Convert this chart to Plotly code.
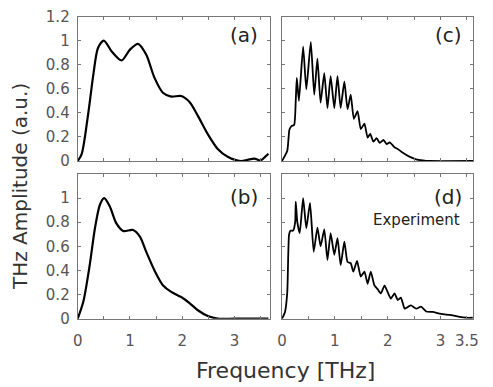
import plotly.graph_objects as go

# Panel (a) - simulation
xa = [0, 0.076, 0.20, 0.30, 0.39, 0.50, 0.65, 0.84, 1.0, 1.155, 1.31, 1.47, 1.63, 1.79, 1.98, 2.14, 2.30, 2.49, 2.68, 2.87, 3.12, 3.25, 3.38, 3.5, 3.6, 3.65]
ya = [0, 0.058, 0.39, 0.72, 0.94, 1.0, 0.91, 0.835, 0.925, 0.973, 0.884, 0.69, 0.567, 0.535, 0.54, 0.49, 0.375, 0.223, 0.10, 0.035, 0.0, 0.01, 0.02, 0.005, 0.04, 0.06]

# Panel (b)
xb = [0, 0.107, 0.23, 0.33, 0.425, 0.507, 0.615, 0.74, 0.87, 1.06, 1.19, 1.31, 1.47, 1.63, 1.79, 1.98, 2.14, 2.30, 2.49, 2.68, 3.0, 3.65]
yb = [0, 0.14, 0.445, 0.75, 0.945, 1.0, 0.93, 0.79, 0.728, 0.735, 0.68, 0.556, 0.40, 0.278, 0.222, 0.18, 0.13, 0.07, 0.022, 0.0, 0.0, 0.0]

# Panel (c)
xc = [0, 0.10, 0.14, 0.18, 0.23, 0.26, 0.28, 0.32, 0.40, 0.46, 0.545, 0.61, 0.67, 0.73, 0.80, 0.86, 0.92, 0.99, 1.05, 1.11, 1.18, 1.24, 1.30, 1.36, 1.43, 1.49, 1.56, 1.62, 1.67, 1.73, 1.79, 1.85, 1.92, 1.98, 2.04, 2.13, 2.19, 2.28, 2.41, 2.54, 2.66, 2.79, 3.62]
yc = [0, 0.085, 0.26, 0.29, 0.30, 0.50, 0.69, 0.50, 0.95, 0.595, 0.99, 0.55, 0.85, 0.485, 0.73, 0.44, 0.705, 0.44, 0.705, 0.44, 0.66, 0.43, 0.55, 0.35, 0.415, 0.265, 0.31, 0.195, 0.225, 0.16, 0.19, 0.15, 0.175, 0.14, 0.155, 0.113, 0.10, 0.07, 0.036, 0.014, 0.005, 0.0, 0.0]

# Panel (d) - experiment
xd = [0, 0.057, 0.10, 0.133, 0.16, 0.21, 0.25, 0.26, 0.29, 0.335, 0.40, 0.46, 0.53, 0.60, 0.67, 0.73, 0.80, 0.86, 0.92, 0.99, 1.05, 1.11, 1.18, 1.24, 1.30, 1.35, 1.42, 1.49, 1.56, 1.62, 1.68, 1.75, 1.81, 1.87, 1.94, 2.0, 2.06, 2.13, 2.19, 2.25, 2.32, 2.38, 2.44, 2.54, 2.63, 2.73, 2.85, 2.98, 3.11, 3.23, 3.36, 3.49, 3.61]
yd = [0, 0.056, 0.22, 0.695, 0.73, 0.73, 0.805, 0.97, 0.80, 0.71, 1.0, 0.75, 0.96, 0.555, 0.755, 0.60, 0.74, 0.487, 0.71, 0.53, 0.667, 0.445, 0.64, 0.47, 0.46, 0.39, 0.48, 0.35, 0.39, 0.29, 0.39, 0.275, 0.245, 0.21, 0.275, 0.22, 0.167, 0.21, 0.155, 0.175, 0.083, 0.097, 0.11, 0.083, 0.10, 0.06, 0.056, 0.042, 0.033, 0.028, 0.015, 0.008, 0.008]

x_tickvals = [0, 0.5, 1, 1.5, 2, 2.5, 3, 3.5]
x_ticktext_left = ["0", "", "1", "", "2", "", "3", ""]
x_ticktext_right = ["0", "", "1", "", "2", "", "3", "3.5"]
y_tickvals = [0, 0.2, 0.4, 0.6, 0.8, 1.0, 1.2]
y_ticktext_top = ["0", "0.2", "0.4", "0.6", "0.8", "1", "1.2"]
y_ticktext_bot = ["0", "0.2", "0.4", "0.6", "0.8", "1", ""]

# page body has an 8px margin, so the figure is 8px smaller and positions shifted
OFF = 8
W, H = 493 - OFF, 387 - OFF
def px_x(p): return (p - OFF) / W
def px_y(p): return (H - (p - OFF)) / H

dom_left = [px_x(77.7), px_x(269.5)]
dom_right = [px_x(282), px_x(473.3)]
dom_top = [px_y(161), px_y(16.5)]
dom_bot = [px_y(318.7), px_y(174)]

fig = go.Figure()
line = dict(color="black", width=2.2, shape="spline", smoothing=0.8)
line2 = dict(color="black", width=1.8, shape="spline", smoothing=0.5)
fig.add_trace(go.Scatter(x=xa, y=ya, mode="lines", line=line, xaxis="x", yaxis="y"))
fig.add_trace(go.Scatter(x=xc, y=yc, mode="lines", line=line2, xaxis="x2", yaxis="y2"))
fig.add_trace(go.Scatter(x=xb, y=yb, mode="lines", line=line, xaxis="x3", yaxis="y3"))
fig.add_trace(go.Scatter(x=xd, y=yd, mode="lines", line=line2, xaxis="x4", yaxis="y4"))

tickfont = dict(family="DejaVu Sans", size=15, color="#555")
common = dict(showgrid=False, zeroline=False, showline=True, linecolor="#777", linewidth=1,
              mirror="ticks", ticks="inside", ticklen=3, tickcolor="#777", tickfont=tickfont,
              automargin=False, ticklabeloverflow="allow")

fig.update_layout(
    width=W, height=H, margin=dict(l=0, r=0, t=0, b=0),
    plot_bgcolor="white", paper_bgcolor="white", showlegend=False,
    xaxis=dict(domain=dom_left, anchor="y", range=[0, 3.67], tickvals=x_tickvals,
               ticktext=["" for _ in x_tickvals], **common),
    yaxis=dict(domain=dom_top, anchor="x", range=[0, 1.2], tickvals=y_tickvals,
               ticktext=y_ticktext_top, ticklabelstandoff=4, **common),
    xaxis2=dict(domain=dom_right, anchor="y2", range=[0, 3.62], tickvals=x_tickvals,
                ticktext=["" for _ in x_tickvals], **common),
    yaxis2=dict(domain=dom_top, anchor="x2", range=[0, 1.2], tickvals=y_tickvals,
                ticktext=["" for _ in y_tickvals], **common),
    xaxis3=dict(domain=dom_left, anchor="y3", range=[0, 3.67], tickvals=x_tickvals,
                ticktext=x_ticktext_left, ticklabelstandoff=8, **common),
    yaxis3=dict(domain=dom_bot, anchor="x3", range=[0, 1.2], tickvals=y_tickvals,
                ticktext=y_ticktext_bot, ticklabelstandoff=4, **common),
    xaxis4=dict(domain=dom_right, anchor="y4", range=[0, 3.62], tickvals=x_tickvals,
                ticktext=x_ticktext_right, ticklabelstandoff=8, **common),
    yaxis4=dict(domain=dom_bot, anchor="x4", range=[0, 1.2], tickvals=y_tickvals,
                ticktext=["" for _ in y_tickvals], **common),
)

lab = dict(family="DejaVu Sans", size=20, color="#222")
anns = [
    dict(text="(a)", xref="x domain", yref="y domain", x=0.95, y=0.87),
    dict(text="(c)", xref="x2 domain", yref="y2 domain", x=0.95, y=0.87),
    dict(text="(b)", xref="x3 domain", yref="y3 domain", x=0.95, y=0.84),
    dict(text="(d)", xref="x4 domain", yref="y4 domain", x=0.95, y=0.84),
]
for a in anns:
    fig.add_annotation(showarrow=False, xanchor="right", yanchor="middle", font=lab, **a)
fig.add_annotation(text="Experiment", xref="x4 domain", yref="y4 domain", x=0.94, y=0.68,
                   showarrow=False, xanchor="right", yanchor="middle",
                   font=dict(family="DejaVu Sans", size=15, color="#222"))
fig.add_annotation(text="THz Amplitude (a.u.)", xref="paper", yref="paper", x=px_x(20), y=px_y(187),
                   textangle=-90, showarrow=False, xanchor="center", yanchor="middle",
                   font=dict(family="DejaVu Sans", size=20, color="#333"))
fig.add_annotation(text="Frequency [THz]", xref="paper", yref="paper", x=px_x(285), y=px_y(370),
                   showarrow=False, xanchor="center", yanchor="middle",
                   font=dict(family="DejaVu Sans", size=22, color="#333"))

fig.write_html("out.html")
